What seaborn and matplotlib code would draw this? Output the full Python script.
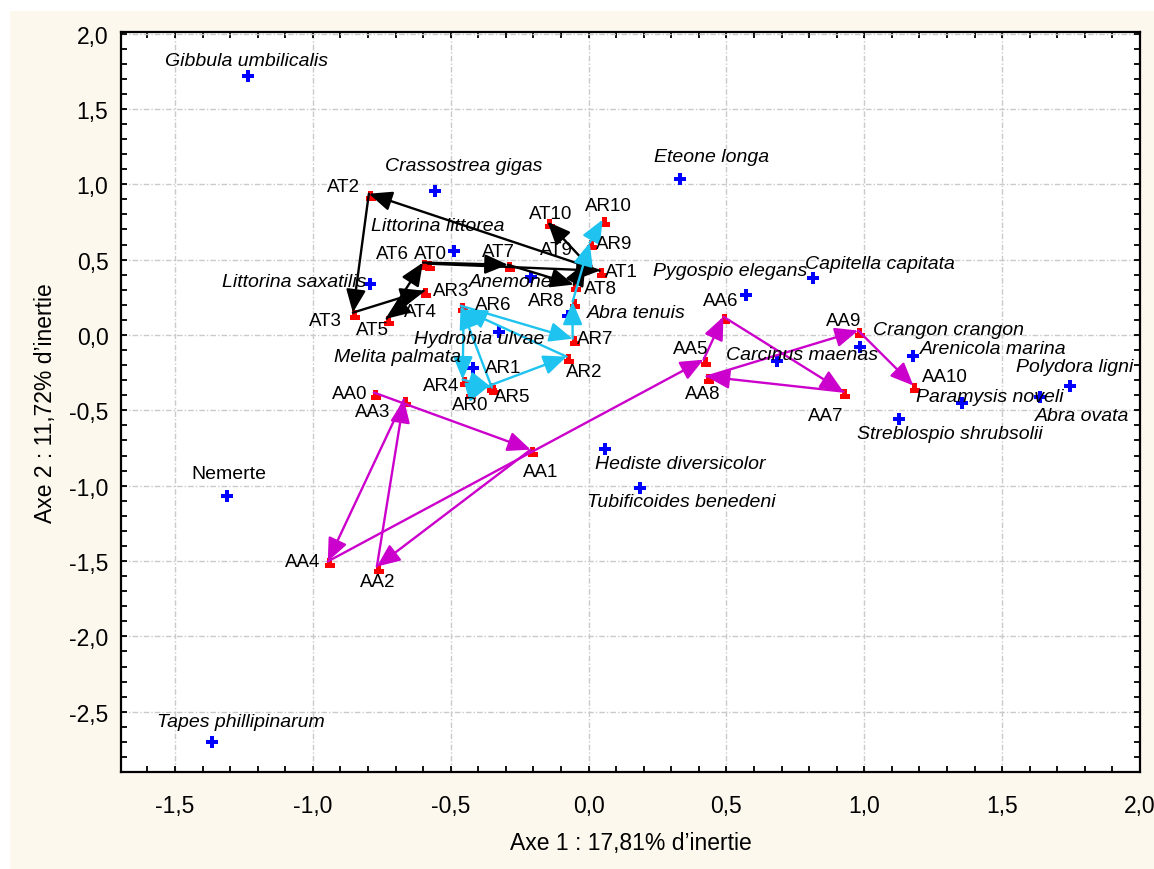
import numpy as np
import pandas as pd
import matplotlib
matplotlib.use("Agg")
import matplotlib.pyplot as plt
from matplotlib.path import Path
from matplotlib.patches import Rectangle
from matplotlib.ticker import MultipleLocator, FixedLocator
import seaborn as sns

# ---------------------------------------------------------------- data
species = ["Gibbula umbilicalis", "Crassostrea gigas", "Eteone longa",
           "Littorina littorea", "Littorina saxatilis", "Anemone",
           "Hydrobia ulvae", "Melita palmata", "Abra tenuis",
           "Pygospio elegans", "Capitella capitata", "Crangon crangon",
           "Arenicola marina", "Carcinus maenas", "Polydora ligni",
           "Paramysis noveli", "Abra ovata", "Streblospio shrubsolii",
           "Hediste diversicolor", "Tubificoides benedeni", "Nemerte",
           "Tapes phillipinarum"]
species_ax1 = [-1.236, -0.558, 0.333, -0.489, -0.793, -0.210, -0.326, -0.420,
               -0.076, 0.572, 0.815, 0.986, 1.178, 0.685, 1.746, 1.355, 1.638,
               1.127, 0.058, 0.188, -1.312, -1.366]
species_ax2 = [1.721, 0.957, 1.037, 0.559, 0.340, 0.387, 0.022, -0.217,
               0.128, 0.267, 0.380, -0.078, -0.137, -0.170, -0.336, -0.449,
               -0.409, -0.555, -0.754, -1.013, -1.066, -2.704]

at_names = [f"AT{i}" for i in range(11)]
at_ax1 = [-0.583, 0.040, -0.797, -0.855, -0.598, -0.732, -0.601, -0.293,
          -0.054, -0.011, -0.149]
at_ax2 = [0.473, 0.426, 0.937, 0.148, 0.294, 0.108, 0.480, 0.466,
          0.334, 0.480, 0.751]

ar_names = [f"AR{i}" for i in range(11)]
ar_ax1 = [-0.435, -0.359, -0.080, -0.453, -0.457, -0.351, -0.464, -0.058,
          -0.058, 0.004, 0.051]
ar_ax2 = [-0.376, -0.336, -0.144, 0.168, -0.296, -0.349, 0.194, -0.025,
          0.221, 0.612, 0.765]

aa_names = [f"AA{i}" for i in range(11)]
aa_ax1 = [-0.779, -0.210, -0.768, -0.670, -0.946, 0.417, 0.489, 0.924,
          0.428, 0.978, 1.178]
aa_ax2 = [-0.382, -0.761, -1.537, -0.429, -1.503, -0.164, 0.121, -0.376,
          -0.276, 0.029, -0.336]

x_ticks = [-1.5, -1.0, -0.5, 0.0, 0.5, 1.0, 1.5, 2.0]
y_ticks = [-2.5, -2.0, -1.5, -1.0, -0.5, 0.0, 0.5, 1.0, 1.5, 2.0]

# label placement (pixel offsets from the point, y upwards)
species_label_offset = {
    "Gibbula umbilicalis": (-1, 15), "Crassostrea gigas": (29, 25),
    "Eteone longa": (31, 22), "Littorina littorea": (-16, 25),
    "Littorina saxatilis": (-76, 2), "Anemone": (-20, -5),
    "Hydrobia ulvae": (-20, -7), "Melita palmata": (-75, 11),
    "Abra tenuis": (69, 3), "Pygospio elegans": (-16, 24),
    "Capitella capitata": (67, 14), "Crangon crangon": (88, 17),
    "Arenicola marina": (80, 7), "Carcinus maenas": (25, 6),
    "Polydora ligni": (5, 19), "Paramysis noveli": (28, 6),
    "Abra ovata": (42, -19), "Streblospio shrubsolii": (51, -15),
    "Hediste diversicolor": (76, -15), "Tubificoides benedeni": (41, -14),
    "Nemerte": (2, 22), "Tapes phillipinarum": (29, 21),
}
site_label_offset = {
    "AT0": (3, 10), "AT1": (22, -1), "AT2": (-25, 7), "AT3": (-27, -8),
    "AT4": (-3, -21), "AT5": (-14, -11), "AT6": (-30, 9), "AT7": (-9, 13),
    "AT8": (27, -4), "AT9": (-29, 13), "AT10": (3, 8),
    "AR0": (2, -13), "AR1": (14, 18), "AR2": (18, -15), "AR3": (-13, 19),
    "AR4": (-21, -6), "AR5": (20, -9), "AR6": (33, 1), "AR7": (23, 0),
    "AR8": (-26, 1), "AR9": (24, -1), "AR10": (6, 14),
    "AA0": (-24, -1), "AA1": (10, -22), "AA2": (1, -15), "AA3": (-31, -12),
    "AA4": (-25, 0), "AA5": (-13, 11), "AA6": (-3, 16), "AA7": (-18, -24),
    "AA8": (-4, -17), "AA9": (-15, 10), "AA10": (32, 9),
}

# ---------------------------------------------------------------- style
sns.set_style("ticks")
plt.rcParams["font.family"] = ["Liberation Sans", "DejaVu Sans"]
plt.rcParams["text.color"] = "black"
plt.rcParams["axes.labelcolor"] = "black"
plt.rcParams["xtick.color"] = "black"
plt.rcParams["ytick.color"] = "black"
PX = 72 / 100  # points per pixel at 100 dpi

species_df = pd.DataFrame({"name": species, "ax1": species_ax1, "ax2": species_ax2})
sites_df = pd.DataFrame({
    "name": at_names + ar_names + aa_names,
    "ax1": at_ax1 + ar_ax1 + aa_ax1,
    "ax2": at_ax2 + ar_ax2 + aa_ax2,
})

fig = plt.figure(figsize=(11.54, 8.70), dpi=100, facecolor="white")
fig.patches.append(Rectangle((10 / 1154, 0), 1, 1 - 12 / 870,
                             transform=fig.transFigure, facecolor="#fdf8ee",
                             edgecolor="none", zorder=-10))
ax = fig.add_axes([121 / 1154, 1 - 773 / 870, (1140 - 121) / 1154, (773 - 33) / 870])
ax.set_facecolor("white")

ax.set_xlim(-1.696, 2.0)
ax.set_ylim(-2.9, 2.01)

ax.xaxis.set_major_locator(FixedLocator(x_ticks))
ax.yaxis.set_major_locator(FixedLocator(y_ticks))
ax.xaxis.set_minor_locator(MultipleLocator(0.1))
ax.yaxis.set_minor_locator(MultipleLocator(0.1))
ax.set_xticklabels([f"{v:.1f}".replace(".", ",") for v in x_ticks])
ax.set_yticklabels([f"{v:.1f}".replace(".", ",") for v in y_ticks])
ax.tick_params(which="both", direction="in", top=True, right=True,
               length=4, width=1.3, colors="black")
ax.tick_params(axis="x", which="major", pad=16, labelsize=16.5)
ax.tick_params(axis="y", which="major", pad=9, labelsize=16.5)
for sp in ax.spines.values():
    sp.set_linewidth(1.6)
    sp.set_color("black")

ax.grid(True, which="major", color="#cacaca", linestyle=(0, (4, 1.5, 1, 1.5)), linewidth=1)
ax.set_axisbelow(True)

# ---------------------------------------------------------------- markers
site_marker = Path(
    [(-3, -7), (7, -7), (7, -2), (3.5, -2), (3.5, 3), (-1, 3), (-1, -2), (-3, -2), (-3, -7)],
    [Path.MOVETO] + [Path.LINETO] * 7 + [Path.CLOSEPOLY],
)

sns.scatterplot(data=species_df, x="ax1", y="ax2", marker="P", color="#0000ff",
                s=80, linewidth=0, ax=ax, zorder=3, legend=False)
sns.scatterplot(data=sites_df, x="ax1", y="ax2", marker=site_marker, color="#ff0000",
                s=105, linewidth=0, ax=ax, zorder=3, legend=False)


def draw_trajectory(xs, ys, color):
    for i in range(len(xs) - 1):
        ax.annotate("", xy=(xs[i + 1], ys[i + 1]), xytext=(xs[i], ys[i]),
                    arrowprops=dict(arrowstyle="-|>,head_length=0.7,head_width=0.3",
                                    color=color, lw=1.7, shrinkA=0, shrinkB=0,
                                    mutation_scale=20),
                    zorder=4)


draw_trajectory(at_ax1, at_ax2, "black")
draw_trajectory(ar_ax1, ar_ax2, "#1ec3f0")
draw_trajectory(aa_ax1, aa_ax2, "#cc00cc")

# ---------------------------------------------------------------- labels
for name, x, y in zip(species, species_ax1, species_ax2):
    dx, dy = species_label_offset[name]
    ax.annotate(name, xy=(x, y), xytext=(dx * PX, dy * PX), textcoords="offset points",
                ha="center", va="center", fontsize=14,
                style="normal" if name == "Nemerte" else "italic", zorder=5)

for name, x, y in zip(sites_df["name"], sites_df["ax1"], sites_df["ax2"]):
    dx, dy = site_label_offset[name]
    ax.annotate(name, xy=(x, y), xytext=(dx * PX, dy * PX), textcoords="offset points",
                ha="center", va="center", fontsize=13.5, zorder=5)

ax.set_xlabel("Axe 1 : 17,81% d\u2019inertie", fontsize=16.5, labelpad=10)
ax.set_ylabel("Axe 2 : 11,72% d\u2019inertie", fontsize=16.5, labelpad=9)

fig.savefig("out.png", dpi=100, facecolor=fig.get_facecolor())
